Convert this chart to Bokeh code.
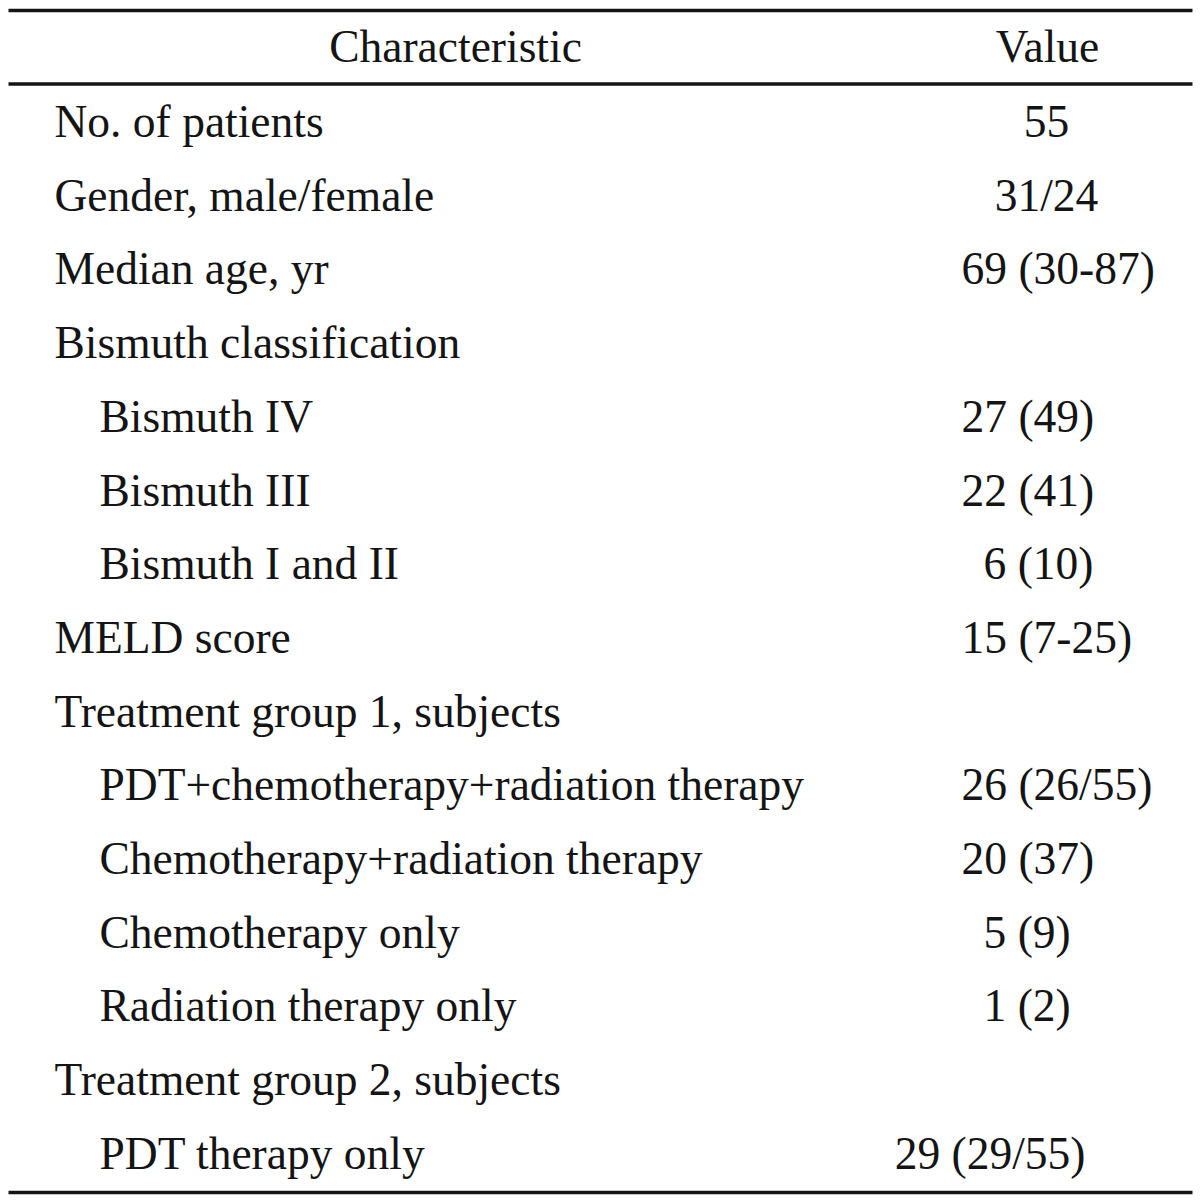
from bokeh.plotting import figure
from bokeh.models import Range1d
from bokeh.core.properties import value
from bokeh.embed import file_html
from bokeh.resources import INLINE

# ---- data ----
header = ["Characteristic", "Value"]
characteristics = [
    "No. of patients",
    "Gender, male/female",
    "Median age, yr",
    "Bismuth classification",
    "Bismuth IV",
    "Bismuth III",
    "Bismuth I and II",
    "MELD score",
    "Treatment group 1, subjects",
    "PDT+chemotherapy+radiation therapy",
    "Chemotherapy+radiation therapy",
    "Chemotherapy only",
    "Radiation therapy only",
    "Treatment group 2, subjects",
    "PDT therapy only",
]
values = [
    "55", "31/24", "69 (30-87)", "", "27 (49)", "22 (41)", "6 (10)",
    "15 (7-25)", "", "26 (26/55)", "20 (37)", "5 (9)", "1 (2)", "", "29 (29/55)",
]
indented = [False, False, False, False, True, True, True, False, False,
            True, True, True, True, False, True]

# ---- layout (pixel coordinates) ----
FONT = value("Liberation Serif")
FS = "45.5px"
COLOR = "#141414"
W, H = 1195, 1198
TXT_SHIFT = -16  # compensates the renderer's baseline placement

p = figure(width=W, height=H, output_backend="svg",
           toolbar_location=None, x_range=Range1d(0, W),
           y_range=Range1d(H, 0), min_border=0)
p.axis.visible = False
p.grid.visible = False
p.outline_line_color = None
p.background_fill_color = "white"
p.border_fill_color = "white"

# rules
p.segment(x0=[8, 8, 8], x1=[1192, 1192, 1192], y0=[10, 83.5, 1192],
          y1=[10, 83.5, 1192], line_color=COLOR, line_width=3.5)

# header
p.text(x=[455, 1047], y=[62 + TXT_SHIFT] * 2, text=header, text_font=FONT,
       text_font_size=FS, text_align="center", text_baseline="alphabetic",
       text_color=COLOR)

# rows
ys = [137 + TXT_SHIFT + i * 73.7 for i in range(len(characteristics))]
lx = [99 if ind else 54 for ind in indented]
p.text(x=lx, y=ys, text=characteristics, text_font=FONT, text_font_size=FS,
       text_align="left", text_baseline="alphabetic", text_color=COLOR)

# value column alignment, as typeset in the original
val_x, val_align = [], []
for v in values:
    if "(" not in v:
        val_x.append(1046); val_align.append("center")
    elif v.startswith("29 (29"):
        val_x.append(1085); val_align.append("right")
    elif len(v.split(" ")[0]) == 1:
        val_x.append(983); val_align.append("left")
    else:
        val_x.append(961); val_align.append("left")
for al in ("left", "center", "right"):
    idx = [i for i, a in enumerate(val_align) if a == al and values[i]]
    if not idx:
        continue
    p.text(x=[val_x[i] for i in idx], y=[ys[i] for i in idx],
           text=[values[i] for i in idx], text_font=FONT, text_font_size=FS,
           text_align=al, text_baseline="alphabetic", text_color=COLOR)

open("out.html", "w").write(file_html(p, INLINE))
